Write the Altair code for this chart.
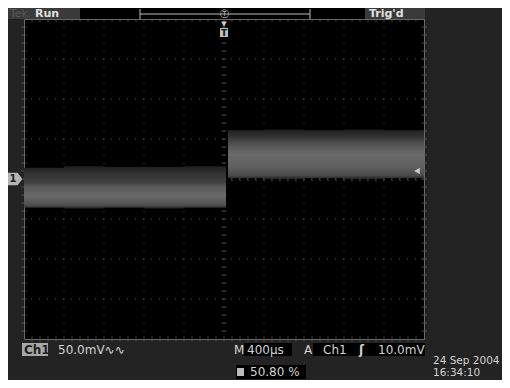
import altair as alt
import pandas as pd

# ---- scope settings read from the screen ----
# 400 µs/div, 10 divisions, trigger at 50.80 % of record; 50 mV/div, 8 divisions
t_min, t_max = -2032, 1968
v_min, v_max = -200, 200

grid_t = [-1632, -1232, -832, -432, -32, 368, 768, 1168, 1568]
grid_v = [-150, -100, -50, 0, 50, 100, 150]

# ---- trace envelope (mV) ----
pre_t = [-2032, -1632, -1232, -832, -432, -12]
pre_hi = [14, 16, 15, 15, 16, 15]
pre_lo = [-36, -37, -36, -37, -36, -36]

post_t = [8, 368, 768, 1168, 1568, 1968]
post_hi = [61, 62, 61, 62, 61, 61]
post_lo = [1, 0, 1, 0, 1, 1]

trig_level = 10  # mV

FONT = "DejaVu Sans"
TXT = "#d2d2d2"

pre_df = pd.DataFrame({"t": pre_t, "hi": pre_hi, "lo": pre_lo})
post_df = pd.DataFrame({"t": post_t, "hi": post_hi, "lo": post_lo})

xs = alt.Scale(domain=[t_min, t_max], nice=False, zero=False)
ys = alt.Scale(domain=[v_min, v_max], nice=False, zero=False)

one = alt.Data(values=[{"a": 1}])

minor_t = [t_min + 80 * k for k in range(1, 50)]
minor_v = [v_min + 10 * k for k in range(1, 40)]


def X(f):
    return alt.X(f, scale=xs, axis=None)


def Y(f):
    return alt.Y(f, scale=ys, axis=None)


def text(s, x, y, size=12, color=TXT, weight="normal", align="left"):
    return alt.Chart(one).mark_text(
        text=s, align=align, baseline="middle", fontSize=size, font=FONT,
        fontWeight=weight, color=color
    ).encode(x=alt.value(x), y=alt.value(y))


def box(x1, x2, y1, y2, color):
    return alt.Chart(one).mark_rect(color=color).encode(
        x=alt.value(x1), x2=alt.value(x2), y=alt.value(y1), y2=alt.value(y2)
    )


def hline(x1, x2, y, color="#bbbbbb"):
    return alt.Chart(one).mark_rule(color=color, strokeWidth=1).encode(
        x=alt.value(x1), x2=alt.value(x2), y=alt.value(y)
    )


def vline(x, y1, y2, color="#bbbbbb"):
    return alt.Chart(one).mark_rule(color=color, strokeWidth=1).encode(
        x=alt.value(x), y=alt.value(y1), y2=alt.value(y2)
    )


GC = "#5a5a5a"
# graticule
gx = alt.Chart(pd.DataFrame({"t": grid_t})).mark_rule(
    color=GC, strokeDash=[1, 7]).encode(x=X("t:Q"))
gy = alt.Chart(pd.DataFrame({"v": grid_v})).mark_rule(
    color=GC, strokeDash=[1, 7]).encode(y=Y("v:Q"))


def ticks_x(v, size):
    return alt.Chart(pd.DataFrame({"t": minor_t})).mark_tick(
        orient="vertical", size=size, thickness=1, color=GC).encode(
        x=X("t:Q"), y=alt.datum(v))


def ticks_y(t, size):
    return alt.Chart(pd.DataFrame({"v": minor_v})).mark_tick(
        orient="horizontal", size=size, thickness=1, color=GC).encode(
        y=Y("v:Q"), x=alt.datum(t))


# trace bands
pre_area = alt.Chart(pre_df).mark_area(
    interpolate="step-after",
    color=alt.Gradient(
        gradient="linear", x1=0, x2=0, y1=0, y2=1,
        stops=[
            alt.GradientStop(color="#1e1e1e", offset=0),
            alt.GradientStop(color="#353535", offset=0.2),
            alt.GradientStop(color="#404040", offset=0.38),
            alt.GradientStop(color="#5c5c5c", offset=0.5),
            alt.GradientStop(color="#686868", offset=0.72),
            alt.GradientStop(color="#4e4e4e", offset=0.92),
            alt.GradientStop(color="#222222", offset=1),
        ],
    ),
).encode(x=X("t:Q"), y=Y("hi:Q"), y2="lo:Q")

post_area = alt.Chart(post_df).mark_area(
    interpolate="step-after",
    color=alt.Gradient(
        gradient="linear", x1=0, x2=0, y1=0, y2=1,
        stops=[
            alt.GradientStop(color="#1e1e1e", offset=0),
            alt.GradientStop(color="#343434", offset=0.15),
            alt.GradientStop(color="#525252", offset=0.3),
            alt.GradientStop(color="#6a6a6a", offset=0.5),
            alt.GradientStop(color="#606060", offset=0.75),
            alt.GradientStop(color="#4a4a4a", offset=0.93),
            alt.GradientStop(color="#222222", offset=1),
        ],
    ),
).encode(x=X("t:Q"), y=Y("hi:Q"), y2="lo:Q")

# markers
ground = alt.Chart(one).mark_point(
    shape="M-1,-0.85 L0.35,-0.85 L1,0 L0.35,0.85 L-1,0.85 Z",
    size=220, filled=True, color="#b4b4b4", opacity=1).encode(
    x=alt.value(-9), y=alt.datum(0))
ground_t = alt.Chart(one).mark_text(
    text="1", fontSize=10, fontWeight="bold", font=FONT, color="#222222",
    align="center", baseline="middle").encode(x=alt.value(-11), y=alt.datum(0))
trig = alt.Chart(one).mark_point(
    shape="triangle-left", size=45, filled=True, color="#c8c8c8", opacity=1
).encode(x=alt.value(393), y=alt.datum(trig_level))

TOPY = -5
layers = [
    gx, gy,
    ticks_x(0, 5), ticks_x(v_max, 6), ticks_x(v_min, 6),
    ticks_y(-32, 5), ticks_y(t_min, 6), ticks_y(t_max, 6),
    pre_area, post_area, ground, ground_t, trig,
    # top status bar
    box(-16, 56, -11, 0, "#3a3a3a"),
    text("Tek", -14, TOPY, size=11, color="#555555"),
    text("Run", 11, TOPY, size=11, weight="bold", color="#e0e0e0"),
    box(56, 341, -11, 0, "#000000"),
    hline(116, 286, TOPY),
    vline(116, -10, 0),
    vline(286, -10, 0),
    text("Ⓣ", 200, TOPY, size=9, color="#cfcfcf", align="center"),
    box(341, 401, -11, 0, "#3a3a3a"),
    text("Trig'd", 345, TOPY, size=11, weight="bold", color="#e0e0e0"),
    # trigger position marker
    text("▼", 200, 5, size=7, color="#cfcfcf", align="center"),
    box(196, 204, 9, 18, "#bdbdbd"),
    text("T", 200, 13.5, size=9, weight="bold", color="#111111", align="center"),
    # bottom readouts
    box(-2, 24, 324, 337, "#a8a8a8"),
    text("Ch1", 0, 330.5, weight="bold", color="#222222"),
    text("50.0mV∿∿", 34, 330.5),
    text("M", 210, 330.5),
    box(220, 268, 324, 337, "#000000"),
    text("400µs", 223, 330.5),
    text("A", 280, 330.5),
    box(289, 401, 324, 337, "#000000"),
    text("Ch1", 299, 330.5),
    text("ʃ", 335, 330.5, weight="bold"),
    text("10.0mV", 354, 330.5),
    box(212, 282, 346, 360, "#000000"),
    box(213, 220, 349, 357, "#bdbdbd"),
    text("50.80 %", 226, 353),
    text("24 Sep 2004", 409, 342, size=10.5),
    text("16:34:10", 409, 354, size=10.5),
]

chart = alt.layer(*layers).properties(
    width=400, height=320,
    autosize=alt.AutoSizeParams(type="none"),
    padding={"left": 16, "top": 11, "right": 78, "bottom": 41},
    background="#232323",
).configure_view(fill="#000000", stroke="#6a6a6a", strokeWidth=1
).configure_axis(disable=True)

chart.save("out.html", embed_options={"renderer": "svg", "actions": False})
